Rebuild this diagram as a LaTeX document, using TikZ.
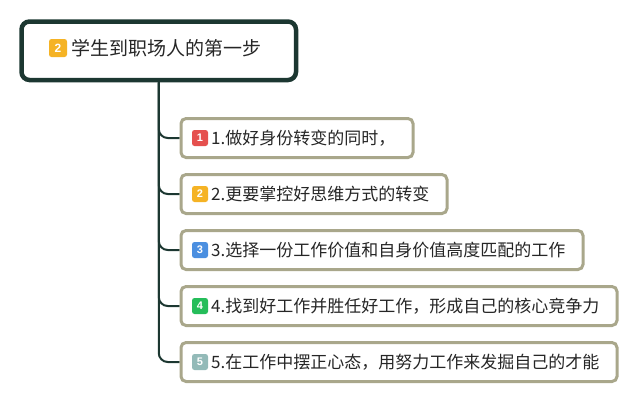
\documentclass[tikz,border=0pt]{standalone}
\usepackage{fontspec}
\setmainfont{Noto Sans CJK SC}
\newfontfamily\badgefont{Liberation Sans}
\definecolor{rootline}{HTML}{1C3731}
\definecolor{boxline}{HTML}{A9A78B}
\definecolor{txt}{HTML}{262626}
\definecolor{bred}{HTML}{E5504E}
\definecolor{borange}{HTML}{F5B325}
\definecolor{bblue}{HTML}{4B8FE0}
\definecolor{bgreen}{HTML}{25BD5A}
\definecolor{bgray}{HTML}{93BAB8}
\begin{document}
\begin{tikzpicture}[x=1pt,y=-1pt,
  rootbox/.style={draw=rootline,line width=4.5pt,rounded corners=8pt,fill=white,minimum width=274.5pt,minimum height=58.5pt,anchor=north west},
  childbox/.style={draw=boxline,line width=3pt,rounded corners=5pt,fill=white,minimum height=39pt,anchor=west},
  badge/.style={fill=#1,rounded corners=2.5pt,minimum size=16pt,inner sep=0pt,text=white,font=\badgefont\bfseries\fontsize{11}{11}\selectfont},
  childtext/.style={anchor=west,inner sep=0pt,text=txt,font=\fontsize{17}{17}\selectfont},
  conn/.style={draw=rootline,line width=2pt,rounded corners=9pt}]
\useasboundingbox (0,0) rectangle (634,400);
\node[rootbox] (root) at (19.25,19.25) {};
\node[badge=borange,minimum size=18pt,font=\badgefont\bfseries\fontsize{12}{12}\selectfont] (rb) at (58,48) {2};
\node[childtext,font=\fontsize{19}{19}\selectfont] (rt) at (71,48) {学生到职场人的第一步};
%
\coordinate (p1) at (179.5,138);
\coordinate (p2) at (179.5,194);
\coordinate (p3) at (179.5,250);
\coordinate (p4) at (179.5,306);
\coordinate (p5) at (179.5,362);
%
\draw[conn] (root.south) |- (p5);
\draw[conn] (root.south) |- (p1);
\draw[conn] (root.south) |- (p2);
\draw[conn] (root.south) |- (p3);
\draw[conn] (root.south) |- (p4);
%
\node[childbox,minimum width=232pt] (c1) at (p1) {};
\node[childbox,minimum width=266pt] (c2) at (p2) {};
\node[childbox,minimum width=402pt] (c3) at (p3) {};
\node[childbox,minimum width=436pt] (c4) at (p4) {};
\node[childbox,minimum width=436pt] (c5) at (p5) {};
%
\node[badge=bred] (b1) at (200,138) {1};
\node[badge=borange] (b2) at (200,194) {2};
\node[badge=bblue] (b3) at (200,250) {3};
\node[badge=bgreen] (b4) at (200,306) {4};
\node[badge=bgray] (b5) at (200,362) {5};
\node[childtext] (t1) at (211,138) {1.做好身份转变的同时，};
\node[childtext] (t2) at (211,194) {2.更要掌控好思维方式的转变};
\node[childtext] (t3) at (211,250) {3.选择一份工作价值和自身价值高度匹配的工作};
\node[childtext] (t4) at (211,306) {4.找到好工作并胜任好工作，形成自己的核心竞争力};
\node[childtext] (t5) at (211,362) {5.在工作中摆正心态，用努力工作来发掘自己的才能};
\end{tikzpicture}
\end{document}
